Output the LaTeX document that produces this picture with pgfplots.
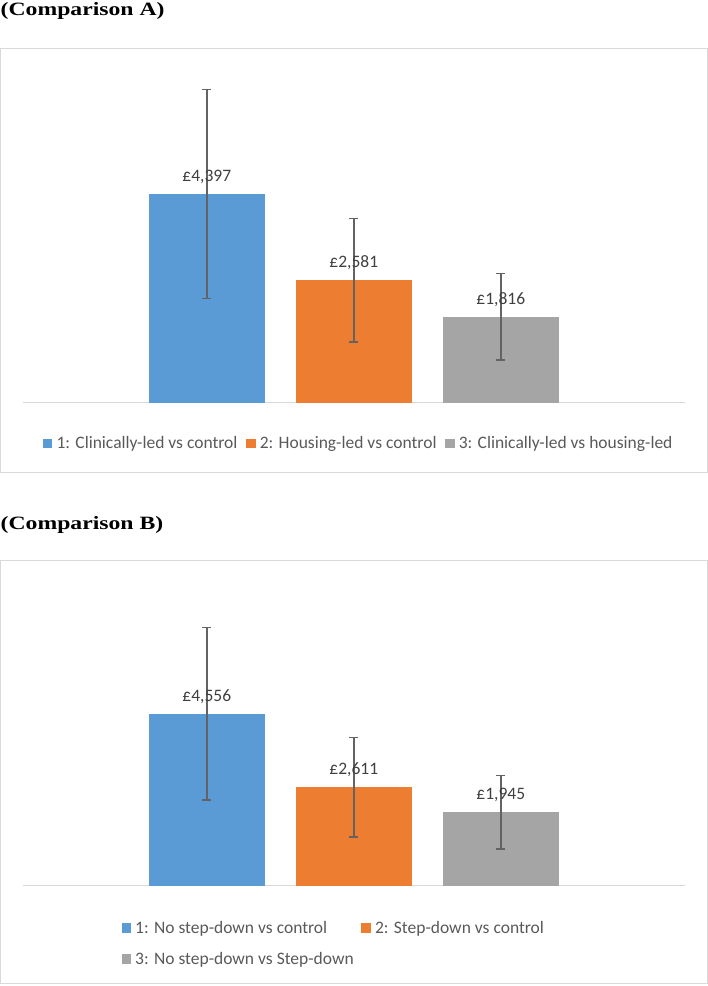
\documentclass[border=0pt]{standalone}
\usepackage{fontspec}
\setmainfont{Carlito}
\newfontfamily\titlefont[FakeStretch=1.26]{Liberation Serif}
\usepackage{pgfplots}
\pgfplotsset{compat=1.18}

\definecolor{cblue}{HTML}{5B9BD5}
\definecolor{corange}{HTML}{ED7D31}
\definecolor{cgray}{HTML}{A5A5A5}
\definecolor{errgray}{HTML}{636363}
\definecolor{labtext}{HTML}{404040}
\definecolor{legtext}{HTML}{595959}
\definecolor{framegray}{HTML}{D9D9D9}

\pgfplotsset{
  costbars/.style={
    scale only axis,
    width=662.4bp,
    xmin=-0.2531, xmax=4.2531,
    ymin=0, ymax=7000,
    axis y line=none,
    axis x line*=bottom,
    axis line style={draw=framegray, line width=1bp},
    xtick=\empty, ytick=\empty,
    ybar, bar width=116bp,
    every axis plot/.append style={bar shift=0pt, draw=none},
    error bars/y dir=both,
    error bars/y explicit,
    error bars/error mark=-,
    error bars/error bar style={draw=errgray, line width=1.4bp},
    error bars/error mark options={draw=errgray, line width=1.4bp, mark size=4.6bp, rotate=90},
    /pgf/number format/fixed,
    /pgf/number format/precision=0,
    /pgf/number format/1000 sep={,},
    /pgf/number format/assume math mode=true,
    nodes near coords={£\pgfmathprintnumber{\pgfplotspointmeta}},
    every node near coord/.append style={
      font=\fontsize{17.5bp}{21bp}\selectfont, text=labtext,
      inner sep=0pt, anchor=base, yshift=12.5bp},
    legend image code/.code={\fill[##1] (0bp,-4.6bp) rectangle (9.4bp,4.6bp);},
    legend cell align=left,
    legend style={draw=none, fill=none, inner sep=0pt, outer sep=0pt,
      text=legtext, font=\fontsize{17.5bp}{21bp}\selectfont,
      nodes={inner sep=1.7bp},
      /tikz/every odd column/.append style={column sep=2.5bp}},
  }
}

\begin{document}
\begin{tikzpicture}
\useasboundingbox (0bp,0bp) rectangle (708bp,986bp);

% chart frames
\draw[framegray, line width=1bp] (0.8bp,513.3bp) rectangle (707.2bp,937.7bp);
\draw[framegray, line width=1bp] (0.8bp,2.0bp) rectangle (707.2bp,425.0bp);

% panel headings
\node[font=\titlefont\bfseries\fontsize{18.8bp}{23bp}\selectfont, anchor=base west, inner sep=0pt] at (0.5bp,970.4bp) {(Comparison A)};
\node[font=\titlefont\bfseries\fontsize{18.8bp}{23bp}\selectfont, anchor=base west, inner sep=0pt] at (0.5bp,456.2bp) {(Comparison B)};

% Comparison A
\begin{axis}[costbars,
  at={(22.6bp,583bp)}, anchor=south west,
  height=332.7bp,
  legend columns=3,
  legend style={at={(0.0308,-0.1217)}, anchor=west,
    /tikz/every even column/.append style={column sep=7bp}},
]
\addplot[fill=cblue] coordinates {(1,4397) +- (0,2200)};
\addlegendentry{1: Clinically-led vs control}
\addplot[fill=corange] coordinates {(2,2581) +- (0,1300)};
\addlegendentry{2: Housing-led vs control}
\addplot[fill=cgray] coordinates {(3,1816) +- (0,910)};
\addlegendentry{3: Clinically-led vs housing-led}
\end{axis}

% Comparison B
\begin{axis}[costbars,
  at={(22.6bp,100.3bp)}, anchor=south west,
  height=264.2bp,
  legend columns=2,
  legend style={at={(0.1495,-0.2185)}, anchor=west,
    /tikz/every even column/.append style={column sep=6bp},
    row sep=14bp},
]
\addplot[fill=cblue] coordinates {(1,4556) +- (0,2290)};
\addlegendentry{1: No step-down vs control}
\addplot[fill=corange] coordinates {(2,2611) +- (0,1316)};
\addlegendentry{2: Step-down vs control}
\addplot[fill=cgray] coordinates {(3,1945) +- (0,976)};
\addlegendentry{3: No step-down vs Step-down}
\end{axis}
\end{tikzpicture}
\end{document}
